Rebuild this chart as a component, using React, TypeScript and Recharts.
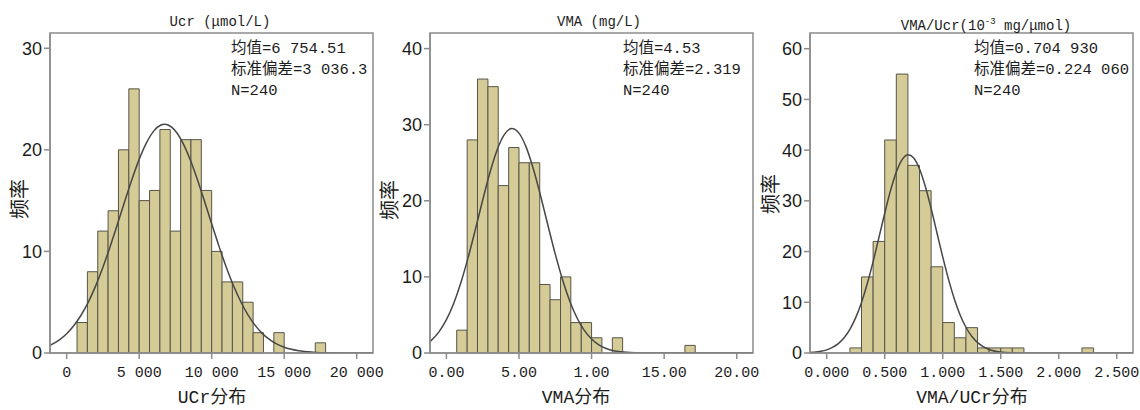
import React from "react";
import { ComposedChart, Line, XAxis, YAxis, ReferenceArea } from "recharts";

// ---- Ucr ----
const UCR_EDGES = [714, 1429, 2143, 2857, 3571, 4286, 5000, 5714, 6429, 7143, 7857, 8571, 9286, 10000, 10714, 11429, 12143, 12857, 13571, 14286, 15000, 15714, 16429, 17143, 17857];
const UCR_COUNTS = [3, 8, 12, 14, 20, 26, 15, 16, 22, 12, 21, 21, 16, 10, 7, 7, 5, 2, 0, 2, 0, 0, 0, 1];
const UCR_CURVE_X = [-1150, -500, 0, 500, 1000, 1500, 2000, 2500, 3000, 3500, 4000, 4500, 5000, 5500, 6000, 6500, 6750, 7000, 7500, 8000, 8500, 9000, 9500, 10000, 10500, 11000, 11500, 12000, 12500, 13000, 13500, 14000, 14500, 15000, 16000, 17000, 18000, 19000, 21125];
const UCR_CURVE_Y = [0.76, 1.3, 1.9, 2.7, 3.74, 5.04, 6.61, 8.44, 10.49, 12.68, 14.92, 17.09, 19.06, 20.68, 21.84, 22.44, 22.52, 22.45, 21.85, 20.7, 19.09, 17.13, 14.96, 12.72, 10.52, 8.47, 6.64, 5.07, 3.76, 2.72, 1.91, 1.31, 0.87, 0.56, 0.22, 0.08, 0.02, 0.01, 0];
const UCR_X_TICKS = [0, 5000, 10000, 15000, 20000];
const UCR_X_LABELS = ["0", "5 000", "10 000", "15 000", "20 000"];
const UCR_Y_TICKS = [0, 10, 20, 30];
const UCR_STATS = ["均值=6 754.51", "标准偏差=3 036.3", "N=240"];

// ---- VMA ----
const VMA_EDGES = [0.71, 1.43, 2.14, 2.86, 3.57, 4.29, 5.0, 5.71, 6.43, 7.14, 7.86, 8.57, 9.29, 10.0, 10.71, 11.43, 12.14, 12.86, 13.57, 14.29, 15.0, 15.71, 16.43, 17.14];
const VMA_COUNTS = [3, 28, 36, 35, 22, 27, 25, 25, 9, 7, 10, 4, 4, 2, 0, 2, 0, 0, 0, 0, 0, 0, 1];
const VMA_CURVE_X = [-1.13, -0.5, 0, 0.5, 1, 1.5, 2, 2.5, 3, 3.5, 4, 4.5, 5, 5.5, 6, 6.5, 7, 7.5, 8, 8.5, 9, 9.5, 10, 10.5, 11, 12, 13, 14, 21.12];
const VMA_CURVE_Y = [1.5, 2.81, 4.38, 6.51, 9.26, 12.56, 16.26, 20.1, 23.72, 26.72, 28.73, 29.49, 28.89, 27.02, 24.12, 20.56, 16.72, 12.99, 9.63, 6.81, 4.6, 2.97, 1.83, 1.07, 0.6, 0.16, 0.04, 0.01, 0];
const VMA_X_TICKS = [0, 5, 10, 15, 20];
const VMA_X_LABELS = ["0.00", "5.00", "1.00", "15.00", "20.00"];
const VMA_Y_TICKS = [0, 10, 20, 30, 40];
const VMA_STATS = ["均值=4.53", "标准偏差=2.319", "N=240"];

// ---- VMA/Ucr ----
const RATIO_EDGES = [0.2, 0.3, 0.4, 0.5, 0.6, 0.7, 0.8, 0.9, 1.0, 1.1, 1.2, 1.3, 1.4, 1.5, 1.6, 1.7, 1.8, 1.9, 2.0, 2.1, 2.2, 2.3];
const RATIO_COUNTS = [1, 15, 22, 42, 55, 37, 32, 17, 6, 3, 5, 1, 1, 1, 1, 0, 0, 0, 0, 0, 1];
const RATIO_CURVE_X = [-0.144, -0.05, 0, 0.05, 0.1, 0.15, 0.2, 0.25, 0.3, 0.35, 0.4, 0.45, 0.5, 0.55, 0.6, 0.65, 0.7, 0.75, 0.8, 0.85, 0.9, 0.95, 1.0, 1.05, 1.1, 1.15, 1.2, 1.25, 1.3, 1.4, 1.5, 1.6, 1.7, 2.64];
const RATIO_CURVE_Y = [0.1, 0.34, 0.62, 1.1, 1.85, 3.01, 4.67, 6.97, 9.97, 13.69, 18.01, 22.75, 27.55, 32.01, 35.67, 38.13, 39.09, 38.45, 36.27, 32.82, 28.49, 23.72, 18.94, 14.51, 10.66, 7.51, 5.08, 3.29, 2.05, 0.7, 0.2, 0.05, 0.01, 0];
const RATIO_X_TICKS = [0, 0.5, 1, 1.5, 2, 2.5];
const RATIO_X_LABELS = ["0.000", "0.500", "1.000", "1.500", "2.000", "2.500"];
const RATIO_Y_TICKS = [0, 10, 20, 30, 40, 50, 60];
const RATIO_STATS = ["均值=0.704 930", "标准偏差=0.224 060", "N=240"];

const BAR_FILL = "#d5cb96";
const BAR_STROKE = "#56554a";
const CURVE = "#474747";
const FRAME = "#8c8c8c";
const TEXT = "#1c1c1c";
const MONO = '"Liberation Mono", "Noto Sans CJK SC", monospace';
const CJK = '"Noto Sans CJK SC", sans-serif';

const X_TICK = { fill: TEXT, fontSize: 15, fontFamily: MONO };
const Y_TICK = { fill: TEXT, fontSize: 18, fontFamily: '"Liberation Sans Narrow", "Arial Narrow", "Liberation Sans", sans-serif' };

interface PanelCfg {
  left: number;
  edges: number[];
  counts: number[];
  curveX: number[];
  curveY: number[];
  xDomain: [number, number];
  xTicks: number[];
  xLabels: string[];
  yMax: number;
  yTicks: number[];
  title: React.ReactNode;
  titleX: number;
  stats: string[];
  statsX: number;
  xName: string;
  xNameX: number;
  yNameX: number;
  yNameY: number;
}

const PANELS: PanelCfg[] = [
  {
    left: 0, edges: UCR_EDGES, counts: UCR_COUNTS, curveX: UCR_CURVE_X, curveY: UCR_CURVE_Y,
    xDomain: [-1150, 21125], xTicks: UCR_X_TICKS, xLabels: UCR_X_LABELS,
    yMax: 31.5, yTicks: UCR_Y_TICKS,
    title: "Ucr (μmol/L)", titleX: 220, stats: UCR_STATS, statsX: 231,
    xName: "UCr分布", xNameX: 212, yNameX: 19, yNameY: 199,
  },
  {
    left: 380, edges: VMA_EDGES, counts: VMA_COUNTS, curveX: VMA_CURVE_X, curveY: VMA_CURVE_Y,
    xDomain: [-1.13, 21.12], xTicks: VMA_X_TICKS, xLabels: VMA_X_LABELS,
    yMax: 42.05, yTicks: VMA_Y_TICKS,
    title: "VMA (mg/L)", titleX: 219, stats: VMA_STATS, statsX: 243,
    xName: "VMA分布", xNameX: 196, yNameX: 9, yNameY: 200,
  },
  {
    left: 760, edges: RATIO_EDGES, counts: RATIO_COUNTS, curveX: RATIO_CURVE_X, curveY: RATIO_CURVE_Y,
    xDomain: [-0.144, 2.64], xTicks: RATIO_X_TICKS, xLabels: RATIO_X_LABELS,
    yMax: 63.1, yTicks: RATIO_Y_TICKS,
    title: <>VMA/Ucr(10<sup style={{ fontSize: 9 }}>-3</sup> mg/μmol)</>, titleX: 226, stats: RATIO_STATS, statsX: 214,
    xName: "VMA/UCr分布", xNameX: 212, yNameX: 10, yNameY: 194,
  },
];

function HistPanel({ p }: { p: PanelCfg }) {
  const data = p.curveX.map((x, i) => ({ x, y: p.curveY[i] }));
  const bins = p.counts
    .map((c, i) => ({ x1: p.edges[i], x2: p.edges[i + 1], c }))
    .filter((b) => b.c > 0);

  return (
    <div style={{ position: "absolute", left: p.left, top: 0, width: 380, height: 410 }}>
      <ComposedChart width={380} height={410} data={data} margin={{ top: 33, right: 7, bottom: 0, left: 10 }}>
        <XAxis
          dataKey="x"
          type="number"
          domain={p.xDomain}
          ticks={p.xTicks}
          interval={0}
          allowDataOverflow
          tickFormatter={(v: number) => p.xLabels[p.xTicks.indexOf(v)] ?? String(v)}
          height={57}
          tickSize={6}
          tickMargin={7}
          axisLine={{ stroke: FRAME, strokeWidth: 1.5 }}
          tickLine={{ stroke: FRAME, strokeWidth: 1.5 }}
          tick={X_TICK}
        />
        <YAxis
          type="number"
          domain={[0, p.yMax]}
          ticks={p.yTicks}
          interval={0}
          allowDataOverflow
          width={40}
          tickSize={6}
          tickMargin={2}
          axisLine={{ stroke: FRAME, strokeWidth: 1.5 }}
          tickLine={{ stroke: FRAME, strokeWidth: 1.5 }}
          tick={Y_TICK}
        />
        {bins.map((b) => (
          <ReferenceArea
            key={b.x1}
            x1={b.x1}
            x2={b.x2}
            y1={0}
            y2={b.c}
            fill={BAR_FILL}
            fillOpacity={1}
            stroke={BAR_STROKE}
            strokeWidth={1}
          />
        ))}
        <ReferenceArea
          x1={p.xDomain[0]}
          x2={p.xDomain[1]}
          y1={0}
          y2={p.yMax}
          fill="none"
          stroke={FRAME}
          strokeWidth={1.5}
        />
        <Line
          dataKey="y"
          type="monotone"
          stroke={CURVE}
          strokeWidth={1.5}
          dot={false}
          activeDot={false}
          isAnimationActive={false}
        />
      </ComposedChart>

      {/* 标题 */}
      <div style={{ position: "absolute", left: p.titleX - 120, top: 14, width: 240, textAlign: "center", fontFamily: MONO, fontSize: 14, lineHeight: "17px", color: TEXT, whiteSpace: "nowrap" }}>
        {p.title}
      </div>
      {/* 统计量 */}
      <div style={{ position: "absolute", left: p.statsX, top: 39, fontFamily: MONO, fontSize: 15.5, lineHeight: "21px", color: TEXT, whiteSpace: "nowrap" }}>
        {p.stats.map((s) => <div key={s}>{s}</div>)}
      </div>
      {/* 轴标题 */}
      <div style={{ position: "absolute", left: p.xNameX - 100, top: 386, width: 200, textAlign: "center", fontFamily: MONO, fontSize: 18, lineHeight: "24px", color: TEXT, whiteSpace: "nowrap" }}>
        {p.xName}
      </div>
      <div style={{ position: "absolute", left: p.yNameX - 30, top: p.yNameY - 12, width: 60, height: 24, textAlign: "center", fontFamily: CJK, fontSize: 20, lineHeight: "24px", color: TEXT, transform: "rotate(-90deg)" }}>
        频率
      </div>
    </div>
  );
}

export default function App() {
  return (
    <div style={{ position: "absolute", left: 0, top: 0, width: 1140, height: 410, background: "#fff", overflow: "hidden" }}>
      <style>{".recharts-surface{overflow:visible}"}</style>
      {PANELS.map((p) => <HistPanel key={p.left} p={p} />)}
    </div>
  );
}
